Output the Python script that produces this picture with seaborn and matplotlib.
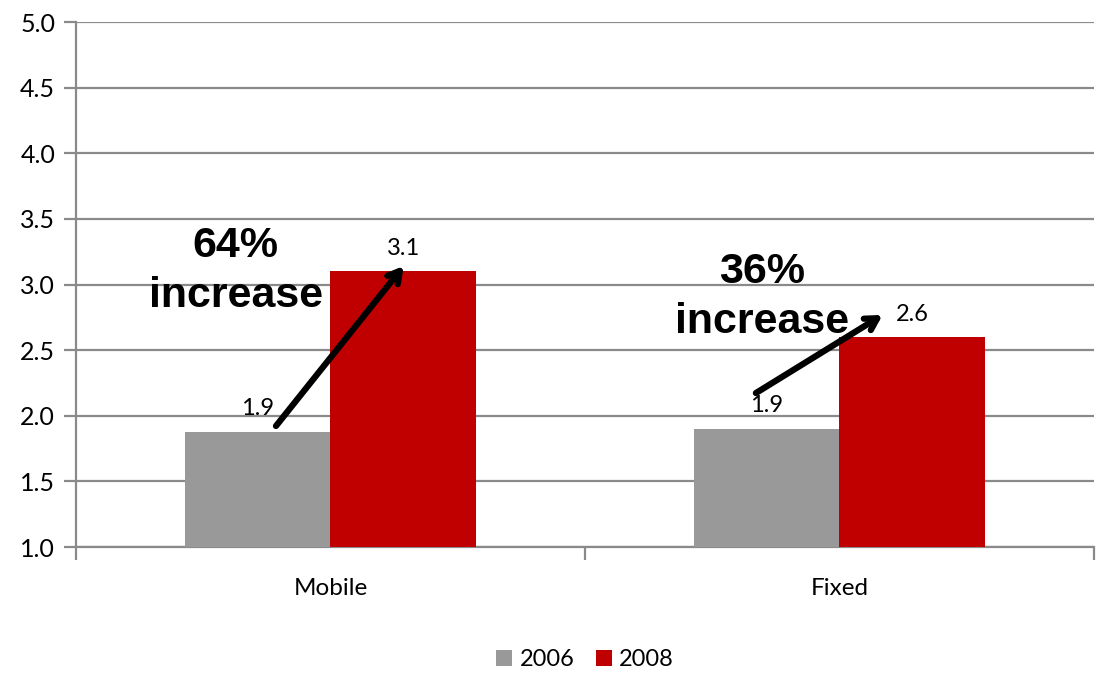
import matplotlib
matplotlib.use("Agg")
import matplotlib.pyplot as plt
import seaborn as sns
import pandas as pd
from matplotlib.ticker import MultipleLocator, FixedLocator

categories = ["Mobile", "Fixed"]
years = ["2006", "2008"]
values_2006 = [1.88, 1.90]
values_2008 = [3.10, 2.60]
labels_2006 = ["1.9", "1.9"]
labels_2008 = ["3.1", "2.6"]
increase_labels = ["64%\nincrease", "36%\nincrease"]

df = pd.DataFrame({
    "category": categories * 2,
    "year": [years[0]] * 2 + [years[1]] * 2,
    "value": values_2006 + values_2008,
})

sns.set_theme(style="white")
plt.rcParams["font.family"] = ["Lato", "DejaVu Sans"]
plt.rcParams["text.color"] = "black"
plt.rcParams["xtick.color"] = "black"
plt.rcParams["ytick.color"] = "black"

fig = plt.figure(figsize=(10.96, 6.77), dpi=100)
ax = fig.add_axes([0.0693, 0.192, 0.9287, 0.7755])

palette = {"2006": "#999999", "2008": "#C00000"}
sns.barplot(data=df, x="category", y="value", hue="year", order=categories,
            hue_order=years, palette=palette, width=0.573, gap=0,
            saturation=1, ax=ax, zorder=3, linewidth=0)

ax.set_ylim(1.0, 5.0)
ax.set_xlim(-0.5, 1.5)
ax.yaxis.set_major_locator(MultipleLocator(0.5))
ax.set_yticklabels([f"{v:.1f}" for v in ax.get_yticks()])
ax.grid(axis="y", color="#8a8a8a", linewidth=1.6, zorder=0)
ax.set_axisbelow(True)

for s in ["top", "right"]:
    ax.spines[s].set_visible(False)
for s in ["left", "bottom"]:
    ax.spines[s].set_color("#8a8a8a")
    ax.spines[s].set_linewidth(1.6)

ax.tick_params(axis="y", which="major", length=9, width=1.6, color="#8a8a8a",
               labelcolor="black", labelsize=18, pad=6, left=True)
ax.tick_params(axis="x", which="major", length=0, labelsize=17.5, labelcolor="black", pad=22)
ax.xaxis.set_minor_locator(FixedLocator([-0.5, 0.5, 1.5]))
ax.tick_params(axis="x", which="minor", length=9, width=1.6, color="#8a8a8a", bottom=True)
ax.set_xlabel("")
ax.set_ylabel("")

for cont, labs in zip(ax.containers, [labels_2006, labels_2008]):
    ax.bar_label(cont, labels=labs, padding=9, fontsize=17, color="black")

# arrows
arrow_style = dict(arrowstyle="->,head_length=0.7,head_width=0.4",
                   color="black", lw=4.5, shrinkA=0, shrinkB=0,
                   capstyle="round", joinstyle="round")
ax.annotate("", xy=(0.144, 3.141), xytext=(-0.107, 1.922),
            arrowprops=arrow_style, zorder=5)
ax.annotate("", xy=(1.085, 2.768), xytext=(0.836, 2.173),
            arrowprops=arrow_style, zorder=5)

ax.text(-0.186, 3.10, increase_labels[0], ha="center", va="center", fontsize=31,
        fontweight="bold", family="Liberation Sans", linespacing=1.32,
        color="black", zorder=6)
ax.text(0.848, 2.905, increase_labels[1], ha="center", va="center", fontsize=31,
        fontweight="bold", family="Liberation Sans", linespacing=1.32,
        color="black", zorder=6)

leg = ax.legend(loc="center", bbox_to_anchor=(0.5, -0.215), ncol=2, frameon=False,
                fontsize=17, handlelength=0.7, handleheight=0.7, handletextpad=0.3,
                columnspacing=0.9)

fig.savefig("out.png", dpi=100)
